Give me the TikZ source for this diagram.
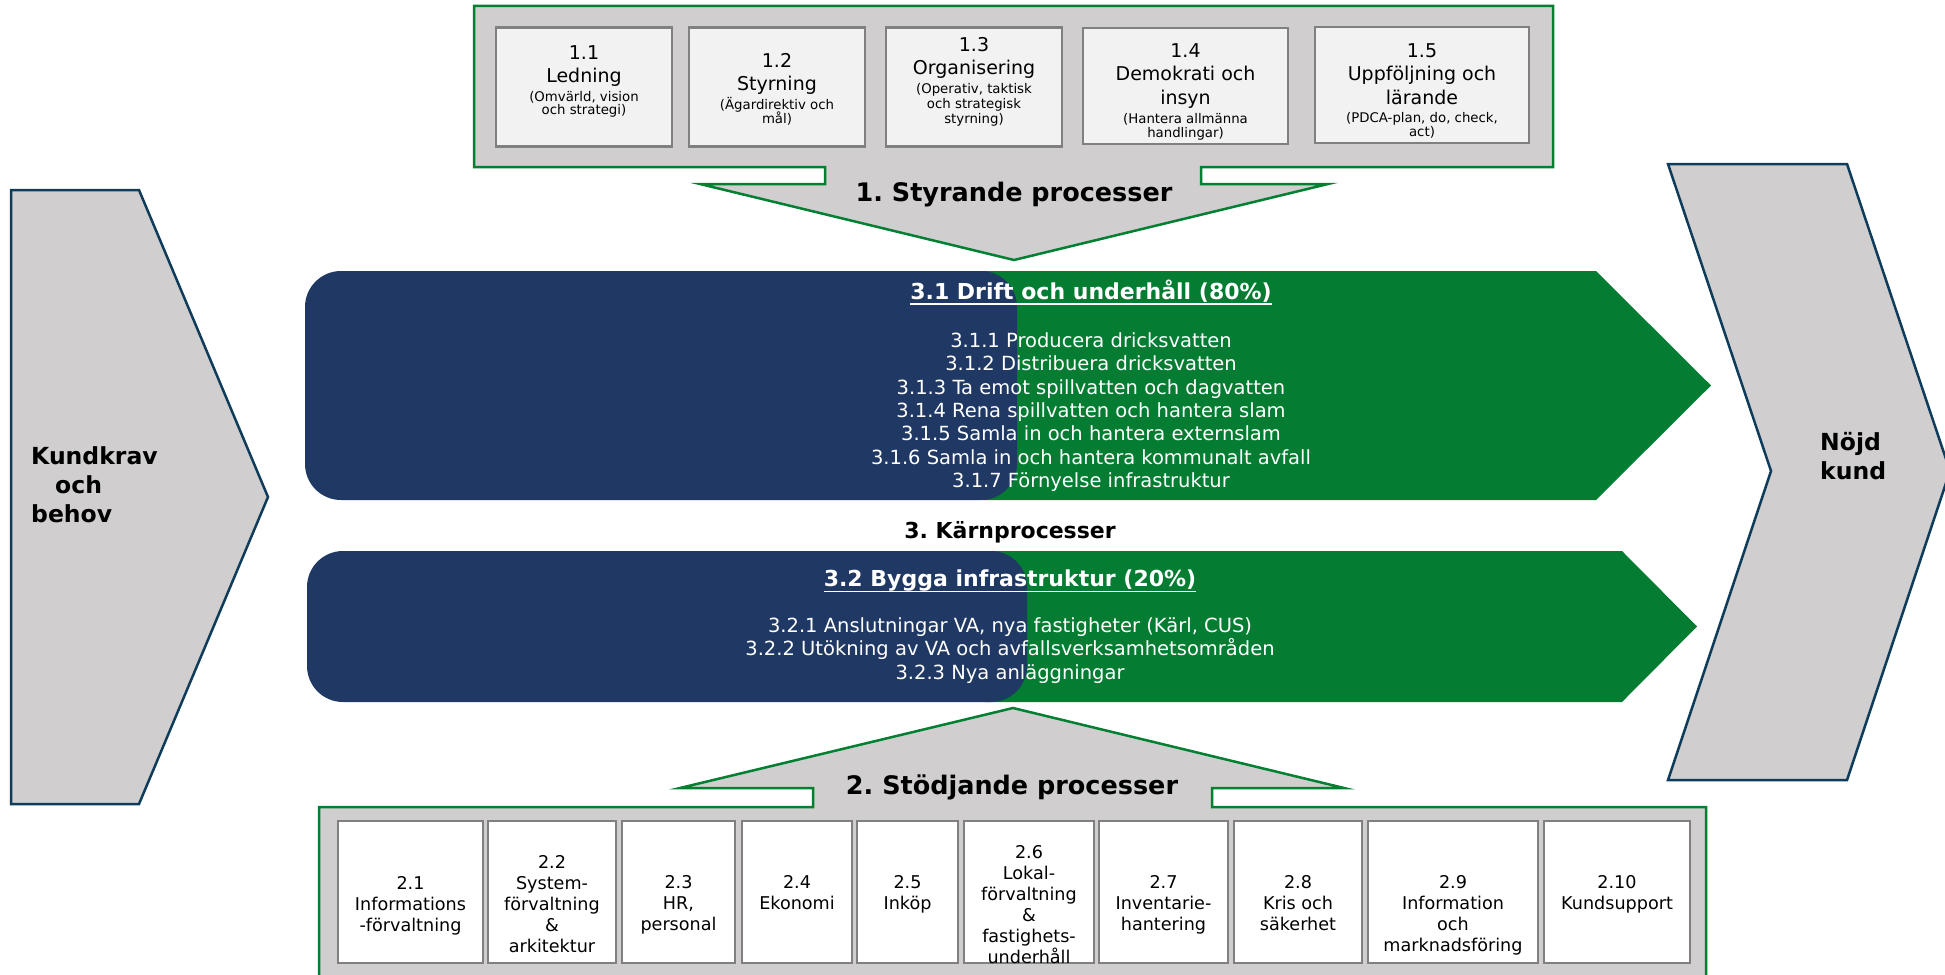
\documentclass[tikz,border=0pt]{standalone}
\usepackage{fontspec}
\setmainfont{DejaVu Sans}
\frenchspacing
\definecolor{pgrey}{RGB}{208,206,206}
\definecolor{pgreen}{RGB}{4,125,50}
\definecolor{fgreen}{RGB}{0,128,48}
\definecolor{pblue}{RGB}{32,56,100}
\definecolor{chev}{RGB}{14,60,90}
\definecolor{boxline}{RGB}{128,128,128}
\definecolor{boxfill}{RGB}{242,242,242}
\newcommand{\smalltxt}{\fontsize{13.3}{13}\selectfont}
\begin{document}
\begin{tikzpicture}[x=1pt,y=-1pt,
  panel/.style={fill=pgrey, draw=fgreen, line width=2.5pt, line join=miter},
  chevron/.style={fill=pgrey, draw=chev, line width=2.5pt, line join=miter},
  topbox/.style={draw=boxline, fill=boxfill, line width=2.5pt, inner sep=0, minimum height=119},
  botbox/.style={draw=boxline, fill=white, line width=2.5pt, inner sep=0, minimum height=142},
  toptext/.style={align=center, inner sep=0, anchor=north, font=\fontsize{19}{23.5}\selectfont},
  bottext/.style={align=center, inner sep=0, anchor=north, font=\fontsize{17.6}{21}\selectfont},
  bandtext/.style={align=center, inner sep=0, anchor=north, text=white, font=\fontsize{19.5}{23.33}\selectfont},
  bandtitle/.style={inner sep=0, anchor=base, text=white, font=\bfseries\fontsize{22}{26}\selectfont},
  proctitle/.style={inner sep=0, anchor=base, font=\bfseries\fontsize{25.5}{30}\selectfont},
  sidetext/.style={align=left, inner sep=0, anchor=north west, font=\bfseries\fontsize{23.5}{29}\selectfont}
]
\useasboundingbox (0,0) rectangle (1945,974);
\clip (0,0) rectangle (1945,974);

% side chevrons
\draw[chevron] (11,190) -- (139,190) -- (268,497) -- (139,804) -- (11,804) -- cycle;
\draw[chevron] (1668,164) -- (1847,164) -- (1950,471) -- (1847,780) -- (1668,780) -- (1771,471) -- cycle;
\node[sidetext] (kund) at (31,446) {Kundkrav\\\hspace*{24pt}och\\behov};
\node[sidetext] (nojd) at (1820,432) {Nöjd\\kund};

% top panel with arrow
\draw[panel] (474,6) -- (1553,6) -- (1553,167) -- (1201,167) -- (1201,184) -- (1328,184)
  -- (1014,260) -- (700,184) -- (825,184) -- (825,167) -- (474,167) -- cycle;
\node[proctitle] (styr) at (1014,201) {1. Styrande processer};

\node[topbox, minimum width=176] (b11) at (584,87) {};
\node[topbox, minimum width=176] (b12) at (777,87) {};
\node[topbox, minimum width=176] (b13) at (974,87) {};
\node[topbox, minimum width=205, minimum height=116] (b14) at (1185.5,86) {};
\node[topbox, minimum width=214, minimum height=116] (b15) at (1422,85) {};
\node[toptext] (t11) at (584,45) {1.1\\Ledning\\[-5pt]\smalltxt (Omvärld, vision\\[-10pt]\smalltxt och strategi)};
\node[toptext] (t12) at (777,53) {1.2\\Styrning\\[-5pt]\smalltxt (Ägardirektiv och\\[-9.5pt]\smalltxt mål)};
\node[toptext] (t13) at (974,37) {1.3\\Organisering\\[-5pt]\smalltxt (Operativ, taktisk\\[-8.5pt]\smalltxt och strategisk\\[-8.5pt]\smalltxt styrning)};
\node[toptext] (t14) at (1185.5,43) {1.4\\Demokrati och\\insyn\\[-4pt]\smalltxt (Hantera allmänna\\[-10pt]\smalltxt handlingar)};
\node[toptext] (t15) at (1422,43) {1.5\\Uppföljning och\\lärande\\[-5pt]\smalltxt (PDCA-plan, do, check,\\[-10pt]\smalltxt act)};

% core process bands
\fill[pgreen] (982,271) -- (1596,271) -- (1711,385.5) -- (1596,500) -- (982,500) -- cycle;
\fill[pblue, rounded corners=36pt] (305,271) rectangle (1017,500);
\node[bandtitle] (t31) at (1091,299) {3.1 Drift och underhåll (80\%)};
\draw[white, line width=1.6pt] ([yshift=-5pt]t31.base west) -- ([yshift=-5pt]t31.base east);
\node[bandtext] (l31) at (1091,332.5) {3.1.1 Producera dricksvatten\\3.1.2 Distribuera dricksvatten\\3.1.3 Ta emot spillvatten och dagvatten\\3.1.4 Rena spillvatten och hantera slam\\3.1.5 Samla in och hantera externslam\\3.1.6 Samla in och hantera kommunalt avfall\\3.1.7 Förnyelse infrastruktur};

\node[proctitle, font=\bfseries\fontsize{22}{26}\selectfont] (karn) at (1010,538) {3. Kärnprocesser};

\fill[pgreen] (985,551) -- (1622,551) -- (1697,626.5) -- (1622,702) -- (985,702) -- cycle;
\fill[pblue, rounded corners=36pt] (307,551) rectangle (1027,702);
\node[bandtitle] (t32) at (1010,586.5) {3.2 Bygga infrastruktur (20\%)};
\draw[white, line width=1.6pt] ([yshift=-5pt]t32.base west) -- ([yshift=-5pt]t32.base east);
\node[bandtext] (l32) at (1010,617.5) {3.2.1 Anslutningar VA, nya fastigheter (Kärl, CUS)\\3.2.2 Utökning av VA och avfallsverksamhetsområden\\3.2.3 Nya anläggningar};

% bottom panel with arrow
\draw[panel] (319,807) -- (813,807) -- (813,788) -- (680,788) -- (1013,708) -- (1344,788)
  -- (1212,788) -- (1212,807) -- (1706,807) -- (1706,990) -- (319,990) -- cycle;
\node[proctitle] (stod) at (1012,794) {2. Stödjande processer};

\node[botbox, minimum width=145] (b21) at (410.5,892) {};
\node[botbox, minimum width=128] (b22) at (552,892) {};
\node[botbox, minimum width=113] (b23) at (678.5,892) {};
\node[botbox, minimum width=110] (b24) at (797,892) {};
\node[botbox, minimum width=101] (b25) at (907.5,892) {};
\node[botbox, minimum width=130] (b26) at (1029,892) {};
\node[botbox, minimum width=129] (b27) at (1163.5,892) {};
\node[botbox, minimum width=128] (b28) at (1298,892) {};
\node[botbox, minimum width=170] (b29) at (1453,892) {};
\node[botbox, minimum width=146] (b210) at (1617,892) {};
\node[bottext] (t21) at (410.5,876.6) {2.1\\Informations\\-förvaltning};
\node[bottext] (t22) at (552,855.6) {2.2\\System-\\förvaltning\\\&\\arkitektur};
\node[bottext] (t23) at (678.5,875.6) {2.3\\HR,\\personal};
\node[bottext] (t24) at (797,875.6) {2.4\\Ekonomi};
\node[bottext] (t25) at (907.5,875.6) {2.5\\Inköp};
\node[bottext] (t26) at (1029,845.6) {2.6\\Lokal-\\förvaltning\\\&\\fastighets-\\underhåll};
\node[bottext] (t27) at (1163.5,875.6) {2.7\\Inventarie-\\hantering};
\node[bottext] (t28) at (1298,875.6) {2.8\\Kris och\\säkerhet};
\node[bottext] (t29) at (1453,875.6) {2.9\\Information\\och\\marknadsföring};
\node[bottext] (t210) at (1617,875.6) {2.10\\Kundsupport};
\end{tikzpicture}
\end{document}
